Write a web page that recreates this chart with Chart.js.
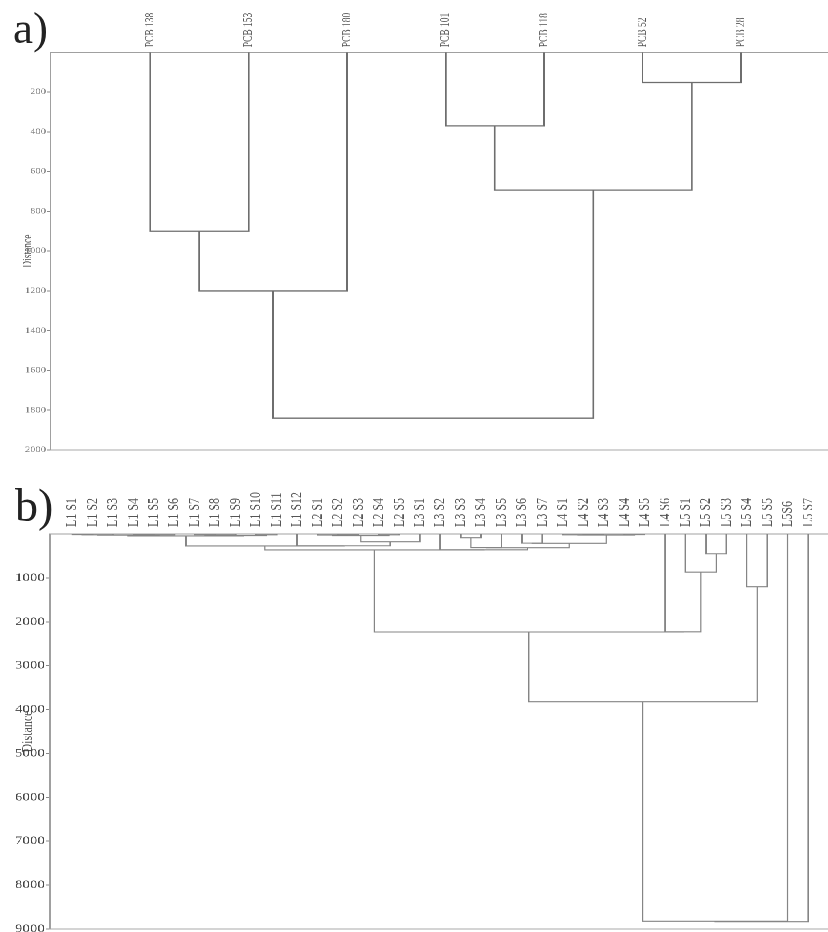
<!DOCTYPE html>
<html>
<head>
<meta charset="utf-8">
<script src="https://cdn.jsdelivr.net/npm/chart.js@4.4.1/dist/chart.umd.min.js"></script>
<style>
  html, body { margin: 0; padding: 0; background: #fff; overflow: hidden; }
  /* the reference is stretched sideways, so the charts are drawn narrow and widened */
  #page { position: absolute; left: 0; top: 0; width: 637px; height: 932px; transform: scaleX(1.3); transform-origin: 0 0; }
  canvas { position: absolute; left: 0; }
  #chartA { top: 0; }
  #chartB { top: 462px; }
  .tag { position: absolute; font-family: 'Liberation Serif', serif; color: #222; line-height: 1; }
  #tagA { left: 13px; top: 6px; font-size: 45px; }
  #tagB { left: 15px; top: 483px; font-size: 46px; }
</style>
</head>
<body>
<div id="page">
  <canvas id="chartA"></canvas>
  <canvas id="chartB"></canvas>
</div>
<div class="tag" id="tagA">a)</div>
<div class="tag" id="tagB">b)</div>
<script>
// a) congeners
const pcbLeaves = ['PCB 138', 'PCB 153', 'PCB 180', 'PCB 101', 'PCB 118', 'PCB 52', 'PCB 28'];
// merges: [left, right, distance]; a string is a leaf, a number is an earlier merge
const pcbMerges = [
    ['PCB 138', 'PCB 153', 900],
    [0, 'PCB 180', 1200],
    ['PCB 101', 'PCB 118', 370],
    ['PCB 52', 'PCB 28', 152],
    [2, 3, 693],
    [1, 4, 1840]
];
const pcbTicks = [200, 400, 600, 800, 1000, 1200, 1400, 1600, 1800, 2000];

// b) sampling sites
const siteLeaves = [
    'L1 S1', 'L1 S2', 'L1 S3', 'L1 S4', 'L1 S5', 'L1 S6', 'L1 S7', 'L1 S8', 'L1 S9', 'L1 S10', 'L1 S11', 'L1 S12',
    'L2 S1', 'L2 S2', 'L2 S3', 'L2 S4', 'L2 S5',
    'L3 S1', 'L3 S2', 'L3 S3', 'L3 S4', 'L3 S5', 'L3 S6', 'L3 S7',
    'L4 S1', 'L4 S2', 'L4 S3', 'L4 S4', 'L4 S5', 'L4 S6',
    'L5 S1', 'L5 S2', 'L5 S3', 'L5 S4', 'L5 S5', 'L5S6', 'L5 S7'
];
const siteMerges = [
    ['L1 S1', 'L1 S2', 12],      // 0
    [0, 'L1 S3', 20],            // 1
    ['L1 S4', 'L1 S5', 10],      // 2
    [2, 'L1 S6', 18],            // 3
    [1, 3, 28],                  // 4
    ['L1 S7', 'L1 S8', 15],      // 5
    [5, 'L1 S9', 22],            // 6
    ['L1 S10', 'L1 S11', 18],    // 7
    [6, 7, 35],                  // 8
    [4, 8, 45],                  // 9
    ['L2 S2', 'L2 S3', 15],      // 10
    ['L2 S1', 10, 25],           // 11
    ['L2 S4', 'L2 S5', 20],      // 12
    [11, 12, 35],                // 13
    [13, 'L3 S1', 175],          // 14
    ['L1 S12', 14, 268],         // 15
    [9, 15, 273],                // 16
    ['L3 S3', 'L3 S4', 84],      // 17
    [17, 'L3 S5', 310],          // 18
    ['L4 S2', 'L4 S3', 12],      // 19
    ['L4 S1', 19, 18],           // 20
    ['L4 S4', 'L4 S5', 14],      // 21
    [20, 21, 25],                // 22
    ['L3 S6', 'L3 S7', 208],     // 23
    [23, 22, 212],               // 24
    [18, 24, 312],               // 25
    ['L3 S2', 25, 360],          // 26
    [16, 26, 364],               // 27
    ['L5 S2', 'L5 S3', 450],     // 28
    ['L5 S1', 28, 870],          // 29
    ['L4 S6', 29, 2228],         // 30
    [27, 30, 2233],              // 31
    ['L5 S4', 'L5 S5', 1200],    // 32
    [31, 32, 3820],              // 33
    [33, 'L5S6', 8825],          // 34
    [34, 'L5 S7', 8833]          // 35
];
const siteTicks = [1000, 2000, 3000, 4000, 5000, 6000, 7000, 8000, 9000];

// each merge becomes one bracket: down the left child, across, up the right child
function linkSegments(leaves, merges) {
    const nodes = [];
    const pos = (ref) => typeof ref === 'string' ? {x: leaves.indexOf(ref), y: 0} : nodes[ref];
    return merges.map(([a, b, h]) => {
        const l = pos(a), r = pos(b);
        nodes.push({x: (l.x + r.x) / 2, y: h});
        return [{x: l.x, y: l.y}, {x: l.x, y: h}, {x: r.x, y: h}, {x: r.x, y: r.y}];
    });
}

function makeDendrogram(id, leaves, merges, yTicks, o) {
    const canvas = document.getElementById(id);
    canvas.width = 637;
    canvas.height = o.height;
    const serif = 'Liberation Serif';
    return new Chart(canvas, {
        type: 'scatter',
        data: {
            datasets: linkSegments(leaves, merges).map(seg => ({
                data: seg,
                showLine: true,
                pointRadius: 0,
                borderColor: o.lineColor,
                borderWidth: o.lineWidth,
                tension: 0
            }))
        },
        options: {
            responsive: false,
            animation: false,
            devicePixelRatio: 2,
            layout: {padding: 0},
            plugins: {legend: {display: false}, tooltip: {enabled: false}},
            scales: {
                x: {
                    type: 'linear',
                    position: 'top',
                    min: o.xMin,
                    max: o.xMax,
                    grid: {display: false, drawTicks: false},
                    border: {color: '#a0a0a0', width: 1},
                    ticks: {
                        autoSkip: false,
                        minRotation: 90,
                        maxRotation: 90,
                        padding: o.labelPad,
                        // rotated labels sit a line-height to the left of their leaf
                        labelOffset: o.labelSize * 1.2,
                        color: '#555',
                        font: {family: serif, size: o.labelSize},
                        callback: v => leaves[v]
                    },
                    afterBuildTicks: s => { s.ticks = leaves.map((n, i) => ({value: i})); },
                    afterFit: s => { s.height = o.topH; s.paddingLeft = 0; s.paddingRight = 0; }
                },
                x2: {
                    type: 'linear',
                    position: 'bottom',
                    ticks: {display: false},
                    grid: {display: false, drawTicks: false},
                    border: {display: true, color: '#a8a8a8', width: 1},
                    afterFit: s => { s.height = o.bottomH; s.paddingLeft = 0; s.paddingRight = 0; }
                },
                y: {
                    type: 'linear',
                    reverse: true,
                    min: 0,
                    max: o.yMax,
                    grid: {drawOnChartArea: false, drawTicks: true, tickLength: 3, color: '#8a8a8a'},
                    border: {color: '#a0a0a0', width: 1},
                    title: {
                        display: true,
                        text: 'Distance',
                        color: '#555',
                        padding: {top: o.titlePad, bottom: 0},
                        font: {family: serif, size: o.titleSize}
                    },
                    ticks: {
                        padding: 1,
                        color: o.tickColor,
                        font: {family: serif, size: o.tickSize},
                        callback: v => String(v)
                    },
                    afterBuildTicks: s => { s.ticks = yTicks.map(v => ({value: v})); },
                    afterFit: s => { s.width = o.axisW; s.paddingTop = 0; s.paddingBottom = 0; }
                }
            }
        }
    });
}

makeDendrogram('chartA', pcbLeaves, pcbMerges, pcbTicks, {
    height: 462, xMin: -1.005, xMax: 6.883, yMax: 2000,
    axisW: 39.2, topH: 52.3, bottomH: 12, labelPad: 5, labelSize: 9.5,
    tickSize: 8, tickColor: '#777', titleSize: 9.5, titlePad: 15.8,
    lineColor: '#6e6e6e', lineWidth: 1.3
});

makeDendrogram('chartB', siteLeaves, siteMerges, siteTicks, {
    height: 470, xMin: -1.076, xMax: 36.97, yMax: 9000,
    axisW: 38.5, topH: 72, bottomH: 3, labelPad: 7, labelSize: 12,
    tickSize: 11.5, tickColor: '#444', titleSize: 12, titlePad: 14.3,
    lineColor: '#858585', lineWidth: 1.1
});
</script>
</body>
</html>
